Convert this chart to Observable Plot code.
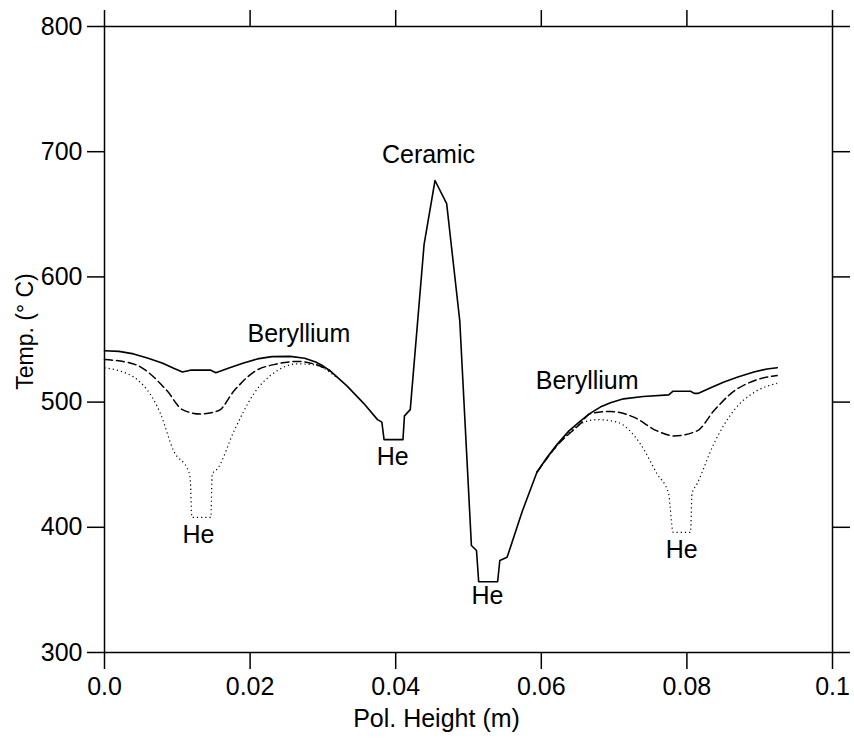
<!DOCTYPE html>
<html>
<head>
<meta charset="utf-8">
<script src="https://cdn.jsdelivr.net/npm/d3@7"></script>
<script src="https://cdn.jsdelivr.net/npm/@observablehq/plot@0.6"></script>
<style>
  html, body { margin: 0; padding: 0; background: #fff; }
  #chart { width: 854px; height: 745px; }
</style>
</head>
<body>
<div id="chart"></div>
<script>
// ---- data ----
const solidX = [0, 0.002, 0.004, 0.006, 0.008, 0.0095, 0.0107, 0.0118, 0.0146, 0.0153, 0.017, 0.019, 0.021, 0.023, 0.0255, 0.0275, 0.0290, 0.0300, 0.0310, 0.0333, 0.0356, 0.0375, 0.0381, 0.0384, 0.0410, 0.0412, 0.0420, 0.0439, 0.0454, 0.0470, 0.0488, 0.0504, 0.0511, 0.0514, 0.0540, 0.0543, 0.0553, 0.0574, 0.0594, 0.0608, 0.0622, 0.0638, 0.0654, 0.0667, 0.0681, 0.0695, 0.0713, 0.0740, 0.0775, 0.0781, 0.0805, 0.0810, 0.0816, 0.0835, 0.0851, 0.0870, 0.0892, 0.0910, 0.0924];
const solidT = [541, 540.5, 538.5, 535, 531, 527, 524, 525.5, 525.5, 523.5, 527, 531, 534.5, 536.3, 536.5, 535, 532, 529, 525, 513, 499, 486, 484, 470, 470, 489, 494, 626, 677, 658.5, 565, 385.5, 381.5, 356.5, 356.5, 373.5, 376, 413, 444, 456, 466.5, 477, 485, 491, 496, 499.5, 502.6, 504.5, 505.8, 508.7, 508.7, 507, 507, 512, 516, 520, 524, 526.5, 527.5];

const dashedLeftX = [0, 0.004, 0.0086, 0.0107, 0.0132, 0.0157, 0.0178, 0.0205, 0.0237, 0.0267, 0.0287, 0.031];
const dashedLeftT = [534, 530.5, 509, 494, 490.5, 493.3, 509, 524, 530.5, 532.5, 530.6, 525];
const dashedRightX = [0.0594, 0.0622, 0.0654, 0.0667, 0.0695, 0.0727, 0.0759, 0.0782, 0.0814, 0.0837, 0.0860, 0.0896, 0.0924];
const dashedRightT = [444, 465.5, 483, 490.7, 492.5, 488, 477, 473, 477, 493, 506.6, 517.8, 521.2];

const dottedLeftX = [0, 0.004, 0.0077, 0.0095, 0.0116, 0.0118, 0.0120, 0.0146, 0.0148, 0.0155, 0.0178, 0.0205, 0.0237, 0.0265, 0.0290, 0.0320];
const dottedLeftT = [527.4, 520, 490.6, 461, 444, 436, 408, 408, 442.7, 446.6, 477, 506.6, 525, 530.6, 529.5, 519];
const dottedRightX = [0.0594, 0.0620, 0.0654, 0.0677, 0.0704, 0.0736, 0.0759, 0.0775, 0.0777, 0.0781, 0.0805, 0.0807, 0.0814, 0.0837, 0.0864, 0.0896, 0.0924];
const dottedRightT = [444, 464, 482.7, 486, 484, 466.7, 442.7, 426.7, 416, 396, 396, 426.7, 434.7, 466.7, 493, 509, 515];

const annoText = ["Beryllium", "Ceramic", "Beryllium", "He", "He", "He", "He"];
const annoX = [0.0267, 0.0445, 0.0663, 0.0129, 0.0396, 0.0526, 0.0793];
const annoT = [554, 697, 516.5, 394, 455.8, 345.5, 381.5];

const xTicks = [0, 0.02, 0.04, 0.06, 0.08, 0.1];
const xTickLabels = ["0.0", "0.02", "0.04", "0.06", "0.08", "0.1"];
const yTicks = [300, 400, 500, 600, 700, 800];
const yTickLabels = ["300", "400", "500", "600", "700", "800"];
const xTitle = "Pol. Height (m)";
const yTitle = "Temp. (° C)";

// ---- build tables ----
const toRows = (xs, ts, seg) => xs.map((x, i) => ({x, t: ts[i], seg}));
const solid = toRows(solidX, solidT, "s");
const dashed = [...toRows(dashedLeftX, dashedLeftT, "L"), ...toRows(dashedRightX, dashedRightT, "R")];
const dotted = [...toRows(dottedLeftX, dottedLeftT, "L"), ...toRows(dottedRightX, dottedRightT, "R")];
const annos = annoText.map((s, i) => ({s, x: annoX[i], t: annoT[i]}));

const FONT = "'Liberation Sans', Arial, Helvetica, sans-serif";
const FS = 25;

const chart = Plot.plot({
  width: 854,
  height: 745,
  marginLeft: 104,
  marginRight: 22,
  marginTop: 26,
  marginBottom: 93,
  style: {fontFamily: FONT, fontSize: FS + "px", color: "black", background: "white"},
  x: {domain: [0, 0.1]},
  y: {domain: [300, 800]},
  marks: [
    Plot.line(dotted, {x: "x", y: "t", z: "seg", curve: "monotone-x", stroke: "black", strokeWidth: 1.2, strokeDasharray: "1.2,3", strokeLinecap: "butt"}),
    Plot.line(dashed, {x: "x", y: "t", z: "seg", curve: "monotone-x", stroke: "black", strokeWidth: 1.5, strokeDasharray: "8,4"}),
    Plot.line(solid, {x: "x", y: "t", stroke: "black", strokeWidth: 1.6}),
    Plot.frame({stroke: "black", strokeWidth: 1.5}),
    Plot.axisX(xTicks, {anchor: "bottom", tickSize: 17, tickPadding: 8, strokeWidth: 1.5, fontSize: FS,
      tickFormat: d => xTickLabels[xTicks.indexOf(d)], label: null}),
    Plot.axisX(xTicks, {anchor: "top", tickSize: 17, strokeWidth: 1.5, tickFormat: () => "", label: null}),
    Plot.axisY(yTicks, {anchor: "left", tickSize: 17, tickPadding: 5, strokeWidth: 1.5, fontSize: FS,
      tickFormat: d => yTickLabels[yTicks.indexOf(d)], label: null}),
    Plot.axisY(yTicks, {anchor: "right", tickSize: 17, strokeWidth: 1.5, tickFormat: () => "", label: null}),
    Plot.text(annos, {x: "x", y: "t", text: "s", fontSize: FS, fill: "black", textAnchor: "middle", lineAnchor: "middle"}),
    Plot.text([xTitle], {frameAnchor: "bottom", text: d => d, dy: 66, dx: -32, fontSize: FS, fill: "black", textAnchor: "middle", lineAnchor: "middle"}),
    Plot.text([yTitle], {frameAnchor: "left", text: d => d, dx: -79, dy: -8, rotate: -90, fontSize: 23, fill: "black", textAnchor: "middle", lineAnchor: "middle"})
  ]
});
document.getElementById("chart").appendChild(chart);
</script>
</body>
</html>
